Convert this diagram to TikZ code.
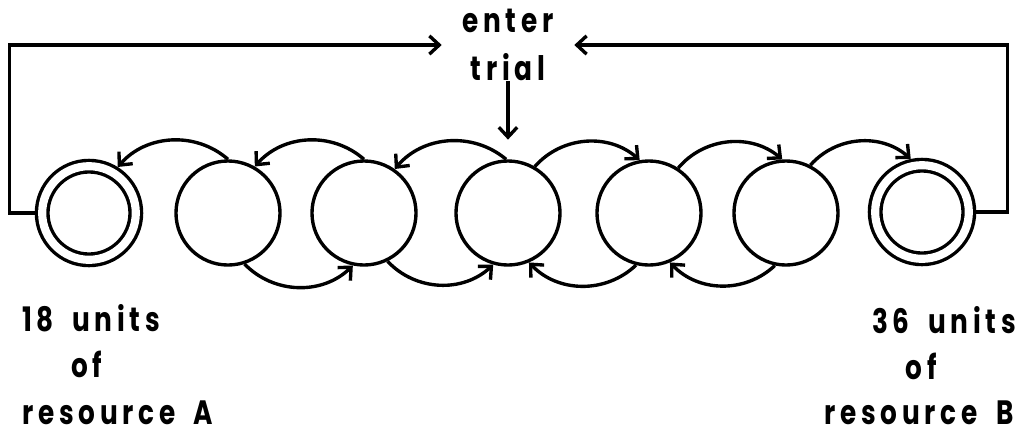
\documentclass[tikz,border=0pt]{standalone}
\usepackage{fontspec}
\setmainfont{Poppins}[LetterSpace=14, FakeStretch=0.78, WordSpace=1.8]
\usetikzlibrary{arrows.meta}

\tikzset{
  state/.style={circle, draw, line width=2.4pt, minimum size=2.6cm, inner sep=0pt},
  absorb/.style={state, double, double distance=5.8pt, minimum size=2.34cm, outer sep=5.3pt},
  arc/.style={line width=2.4pt, -{Straight Barb[length=7pt,width=13pt]}},
  tag/.style={font=\fontsize{24}{34}\selectfont\bfseries, inner sep=0pt}
}

\begin{document}
\begin{tikzpicture}[x=0.025cm, y=-0.025cm]
  \useasboundingbox (0,0) rectangle (1022,437);

  % chain of states, ends absorbing
  \node[absorb] (c1) at (89,213) {};
  \node[state]  (c2) at (228,213) {};
  \node[state]  (c3) at (364,213) {};
  \node[state]  (c4) at (508,213) {};
  \node[state]  (c5) at (649,213) {};
  \node[state]  (c6) at (786,213) {};
  \node[absorb] (c7) at (922,212) {};

  \node[tag, align=center, minimum width=3.3cm] (entry) at (508,45) {enter\\trial};

  % outward moves along the top
  \draw[arc] (c2.90) to[bend right=45] (c1.58);
  \draw[arc] (c3.90) to[bend right=45] (c2.60);
  \draw[arc] (c4.92) to[bend right=45] (c3.55);
  \draw[arc] (c4.60) to[bend left=45] (c5.100);
  \draw[arc] (c5.57) to[bend left=45] (c6.94);
  \draw[arc] (c6.63) to[bend left=45] (c7.102);

  % inward moves along the bottom
  \draw[arc] (c2.-72) to[bend right=45] (c3.-102);
  \draw[arc] (c3.-64) to[bend right=45] (c4.-106);
  \draw[arc] (c5.-104) to[bend left=45] (c4.-67);
  \draw[arc] (c6.-102) to[bend left=45] (c5.-67);

  % back to a new trial
  \draw[arc] (c1.west) -- ++(-25,0) |- (entry.west);
  \draw[arc] (c7.east) -- ++(31,0) |- (entry.east);
  \draw[arc, shorten >=14pt] (entry.south) -- (c4.north);

  % resource labels
  \node[tag, anchor=base west] (unitsA) at (22,331) {18 units};
  \node[tag, anchor=base] (ofA) at (87,377) {of};
  \node[tag, anchor=base west] (resA) at (22,424) {resource A};
  \node[tag, anchor=base east] (unitsB) at (1016,333) {36 units};
  \node[tag, anchor=base] (ofB) at (921,379) {of};
  \node[tag, anchor=base east] (resB) at (1014,424) {resource B};
\end{tikzpicture}
\end{document}
